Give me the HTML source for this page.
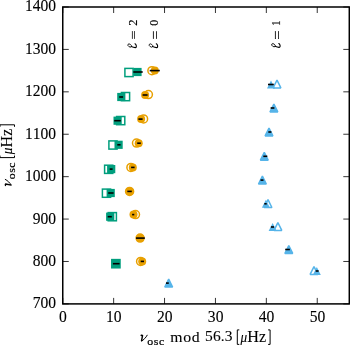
<!DOCTYPE html>
<html><head><meta charset="utf-8"><style>
html,body{margin:0;padding:0;background:#fff;width:350px;height:346px;overflow:hidden}
svg{display:block;will-change:transform}
text{font-family:"Liberation Serif",serif;fill:#000;font-kerning:none}
</style></head><body>
<svg width="350" height="346" viewBox="0 0 350 346">
<rect width="350" height="346" fill="#fff"/>
<g><circle cx="151.9" cy="70.7" r="4.0" fill="none" stroke="#E8A000" stroke-width="1.5"/><circle cx="148.4" cy="94.6" r="4.0" fill="none" stroke="#E8A000" stroke-width="1.5"/><circle cx="143.6" cy="118.9" r="4.0" fill="none" stroke="#E8A000" stroke-width="1.5"/><circle cx="136.5" cy="143.1" r="4.0" fill="none" stroke="#E8A000" stroke-width="1.5"/><circle cx="130.9" cy="167.4" r="4.0" fill="none" stroke="#E8A000" stroke-width="1.5"/><circle cx="129.6" cy="191.4" r="4.0" fill="none" stroke="#E8A000" stroke-width="1.5"/><circle cx="135.5" cy="214.6" r="4.0" fill="none" stroke="#E8A000" stroke-width="1.5"/><circle cx="140.1" cy="238.1" r="4.0" fill="none" stroke="#E8A000" stroke-width="1.5"/><circle cx="140.6" cy="261.4" r="4.0" fill="none" stroke="#E8A000" stroke-width="1.5"/><rect x="124.90" y="68.40" width="8.2" height="8.2" fill="none" stroke="#009E7D" stroke-width="1.5"/><rect x="121.40" y="92.50" width="8.2" height="8.2" fill="none" stroke="#009E7D" stroke-width="1.5"/><rect x="116.60" y="116.50" width="8.2" height="8.2" fill="none" stroke="#009E7D" stroke-width="1.5"/><rect x="108.90" y="140.90" width="8.2" height="8.2" fill="none" stroke="#009E7D" stroke-width="1.5"/><rect x="104.60" y="165.20" width="8.2" height="8.2" fill="none" stroke="#009E7D" stroke-width="1.5"/><rect x="102.40" y="189.10" width="8.2" height="8.2" fill="none" stroke="#009E7D" stroke-width="1.5"/><rect x="108.20" y="212.60" width="8.2" height="8.2" fill="none" stroke="#009E7D" stroke-width="1.5"/><rect x="111.80" y="259.60" width="8.2" height="8.2" fill="none" stroke="#009E7D" stroke-width="1.5"/><polygon points="277.00,80.10 273.10,87.90 280.90,87.90" fill="none" stroke="#56B4E9" stroke-width="1.5" stroke-linejoin="bevel"/><polygon points="273.90,104.10 270.00,111.90 277.80,111.90" fill="none" stroke="#56B4E9" stroke-width="1.5" stroke-linejoin="bevel"/><polygon points="269.00,128.10 265.10,135.90 272.90,135.90" fill="none" stroke="#56B4E9" stroke-width="1.5" stroke-linejoin="bevel"/><polygon points="264.30,152.40 260.40,160.20 268.20,160.20" fill="none" stroke="#56B4E9" stroke-width="1.5" stroke-linejoin="bevel"/><polygon points="262.40,176.20 258.50,184.00 266.30,184.00" fill="none" stroke="#56B4E9" stroke-width="1.5" stroke-linejoin="bevel"/><polygon points="268.00,199.70 264.10,207.50 271.90,207.50" fill="none" stroke="#56B4E9" stroke-width="1.5" stroke-linejoin="bevel"/><polygon points="277.90,222.60 274.00,230.40 281.80,230.40" fill="none" stroke="#56B4E9" stroke-width="1.5" stroke-linejoin="bevel"/><polygon points="288.80,245.60 284.90,253.40 292.70,253.40" fill="none" stroke="#56B4E9" stroke-width="1.5" stroke-linejoin="bevel"/><polygon points="314.00,266.60 310.10,274.40 317.90,274.40" fill="none" stroke="#56B4E9" stroke-width="1.5" stroke-linejoin="bevel"/><polygon points="168.70,279.20 164.80,287.00 172.60,287.00" fill="none" stroke="#56B4E9" stroke-width="1.5" stroke-linejoin="bevel"/></g>
<g><circle cx="154.8" cy="70.6" r="4.0" fill="#E8A000"/><circle cx="145.1" cy="95.0" r="4.0" fill="#E8A000"/><circle cx="141.1" cy="119.1" r="4.0" fill="#E8A000"/><circle cx="138.7" cy="143.2" r="4.0" fill="#E8A000"/><circle cx="132.8" cy="167.4" r="4.0" fill="#E8A000"/><circle cx="129.6" cy="191.4" r="4.0" fill="#E8A000"/><circle cx="133.5" cy="214.6" r="4.0" fill="#E8A000"/><circle cx="140.1" cy="238.1" r="4.0" fill="#E8A000"/><circle cx="142.2" cy="261.4" r="4.0" fill="#E8A000"/><rect x="133.40" y="67.90" width="8.2" height="8.2" fill="#009E7D"/><rect x="117.20" y="92.90" width="8.2" height="8.2" fill="#009E7D"/><rect x="113.50" y="116.60" width="8.2" height="8.2" fill="#009E7D"/><rect x="114.50" y="140.70" width="8.2" height="8.2" fill="#009E7D"/><rect x="107.10" y="165.00" width="8.2" height="8.2" fill="#009E7D"/><rect x="106.60" y="188.90" width="8.2" height="8.2" fill="#009E7D"/><rect x="106.10" y="212.60" width="8.2" height="8.2" fill="#009E7D"/><rect x="111.80" y="259.60" width="8.2" height="8.2" fill="#009E7D"/><polygon points="271.00,80.50 267.00,88.50 275.00,88.50" fill="#56B4E9"/><polygon points="273.70,104.00 269.70,112.00 277.70,112.00" fill="#56B4E9"/><polygon points="268.90,128.00 264.90,136.00 272.90,136.00" fill="#56B4E9"/><polygon points="264.20,152.30 260.20,160.30 268.20,160.30" fill="#56B4E9"/><polygon points="262.30,176.10 258.30,184.10 266.30,184.10" fill="#56B4E9"/><polygon points="265.90,199.80 261.90,207.80 269.90,207.80" fill="#56B4E9"/><polygon points="272.60,223.00 268.60,231.00 276.60,231.00" fill="#56B4E9"/><polygon points="288.70,245.50 284.70,253.50 292.70,253.50" fill="#56B4E9"/><polygon points="316.80,267.00 312.80,275.00 320.80,275.00" fill="#56B4E9"/><polygon points="168.50,279.10 164.50,287.10 172.50,287.10" fill="#56B4E9"/></g>
<g stroke="#000" stroke-width="1.6"><line x1="149.7" y1="70.6" x2="159.8" y2="70.6"/><line x1="142.6" y1="95.0" x2="147.6" y2="95.0"/><line x1="138.4" y1="119.1" x2="142.6" y2="119.1"/><line x1="137.2" y1="143.2" x2="140.8" y2="143.2"/><line x1="131.1" y1="167.4" x2="134.6" y2="167.4"/><line x1="127.3" y1="191.4" x2="131.8" y2="191.4"/><line x1="132.1" y1="214.6" x2="134.3" y2="214.6"/><line x1="136.0" y1="238.1" x2="144.8" y2="238.1"/><line x1="140.7" y1="261.4" x2="144.0" y2="261.4"/><line x1="133.3" y1="72.0" x2="142.7" y2="72.0"/><line x1="119.2" y1="97.0" x2="123.1" y2="97.0"/><line x1="114.2" y1="120.7" x2="120.8" y2="120.7"/><line x1="117.3" y1="144.8" x2="120.6" y2="144.8"/><line x1="109.7" y1="169.1" x2="112.6" y2="169.1"/><line x1="108.2" y1="193.0" x2="113.6" y2="193.0"/><line x1="107.7" y1="216.7" x2="111.8" y2="216.7"/><line x1="112.9" y1="263.7" x2="119.6" y2="263.7"/><line x1="268.0" y1="84.5" x2="273.8" y2="84.5"/><line x1="270.6" y1="108.0" x2="274.4" y2="108.0"/><line x1="268.3" y1="132.0" x2="271.4" y2="132.0"/><line x1="263.3" y1="156.3" x2="267.3" y2="156.3"/><line x1="260.5" y1="180.1" x2="263.5" y2="180.1"/><line x1="264.3" y1="203.8" x2="266.7" y2="203.8"/><line x1="270.9" y1="227.0" x2="274.1" y2="227.0"/><line x1="285.2" y1="249.5" x2="289.9" y2="249.5"/><line x1="315.7" y1="271.0" x2="318.6" y2="271.0"/><line x1="166.0" y1="283.1" x2="168.8" y2="283.1"/></g>
<g stroke="#000" stroke-width="0.8"><line x1="62.75" y1="303.90" x2="62.75" y2="297.90"/><line x1="62.75" y1="7.00" x2="62.75" y2="13.00"/><line x1="113.65" y1="303.90" x2="113.65" y2="297.90"/><line x1="113.65" y1="7.00" x2="113.65" y2="13.00"/><line x1="164.54" y1="303.90" x2="164.54" y2="297.90"/><line x1="164.54" y1="7.00" x2="164.54" y2="13.00"/><line x1="215.44" y1="303.90" x2="215.44" y2="297.90"/><line x1="215.44" y1="7.00" x2="215.44" y2="13.00"/><line x1="266.34" y1="303.90" x2="266.34" y2="297.90"/><line x1="266.34" y1="7.00" x2="266.34" y2="13.00"/><line x1="317.24" y1="303.90" x2="317.24" y2="297.90"/><line x1="317.24" y1="7.00" x2="317.24" y2="13.00"/><line x1="62.75" y1="303.90" x2="68.75" y2="303.90"/><line x1="349.30" y1="303.90" x2="343.30" y2="303.90"/><line x1="62.75" y1="261.48" x2="68.75" y2="261.48"/><line x1="349.30" y1="261.48" x2="343.30" y2="261.48"/><line x1="62.75" y1="219.07" x2="68.75" y2="219.07"/><line x1="349.30" y1="219.07" x2="343.30" y2="219.07"/><line x1="62.75" y1="176.66" x2="68.75" y2="176.66"/><line x1="349.30" y1="176.66" x2="343.30" y2="176.66"/><line x1="62.75" y1="134.24" x2="68.75" y2="134.24"/><line x1="349.30" y1="134.24" x2="343.30" y2="134.24"/><line x1="62.75" y1="91.83" x2="68.75" y2="91.83"/><line x1="349.30" y1="91.83" x2="343.30" y2="91.83"/><line x1="62.75" y1="49.41" x2="68.75" y2="49.41"/><line x1="349.30" y1="49.41" x2="343.30" y2="49.41"/><line x1="62.75" y1="7.00" x2="68.75" y2="7.00"/><line x1="349.30" y1="7.00" x2="343.30" y2="7.00"/></g>
<rect x="62.75" y="7.00" width="286.55" height="296.90" fill="none" stroke="#000" stroke-width="1.5"/>
<g font-size="16.2" stroke="#000" stroke-width="0.12"><text transform="translate(62.95,321.95) scale(0.94,1)" font-size="16.6" text-anchor="middle">0</text><text transform="translate(113.85,321.95) scale(0.94,1)" font-size="16.6" text-anchor="middle">10</text><text transform="translate(164.74,321.95) scale(0.94,1)" font-size="16.6" text-anchor="middle">20</text><text transform="translate(215.64,321.95) scale(0.94,1)" font-size="16.6" text-anchor="middle">30</text><text transform="translate(266.54,321.95) scale(0.94,1)" font-size="16.6" text-anchor="middle">40</text><text transform="translate(317.44,321.95) scale(0.94,1)" font-size="16.6" text-anchor="middle">50</text><text transform="translate(56.0,308.35) scale(0.96,1)" text-anchor="end">700</text><text transform="translate(56.0,265.93) scale(0.96,1)" text-anchor="end">800</text><text transform="translate(56.0,223.52) scale(0.96,1)" text-anchor="end">900</text><text transform="translate(56.0,181.11) scale(0.96,1)" text-anchor="end">1000</text><text transform="translate(56.0,138.69) scale(0.96,1)" text-anchor="end">1100</text><text transform="translate(56.0,96.28) scale(0.96,1)" text-anchor="end">1200</text><text transform="translate(56.0,53.86) scale(0.96,1)" text-anchor="end">1300</text><text transform="translate(56.0,11.45) scale(0.96,1)" text-anchor="end">1400</text></g>
<g transform="rotate(-90)" stroke="#000" stroke-width="0.15"><text transform="translate(-39.40,137.87) scale(1.2998,1)" font-size="12.40">=</text><text transform="translate(-25.85,136.60) scale(1.0453,1)" font-size="11.93">2</text><text transform="translate(-39.40,159.60) scale(1.1513,1)" font-size="14.00">=</text><text transform="translate(-25.75,158.08) scale(0.9708,1)" font-size="12.15">0</text><text transform="translate(-39.73,281.70) scale(1.1973,1)" font-size="14.00">=</text><text transform="translate(-25.90,280.40) scale(0.9260,1)" font-size="12.27">1</text></g><g transform="matrix(0,-1,-1,0,136.5,49.0)"><ellipse cx="3.5" cy="6.85" rx="1.3" ry="2.0" transform="rotate(-36 3.5 6.85)" fill="none" stroke="#000" stroke-width="0.8"/><path d="M2.5,5.3 C2.0,4.0 1.5,2.4 1.35,1.2 C1.3,0.2 2.4,0.0 3.6,0.3 C4.4,0.5 4.9,0.9 5.2,1.5" fill="none" stroke="#000" stroke-width="1.1" stroke-linecap="round"/></g><g transform="matrix(0,-1,-1,0,157.8,49.0)"><ellipse cx="3.5" cy="6.85" rx="1.3" ry="2.0" transform="rotate(-36 3.5 6.85)" fill="none" stroke="#000" stroke-width="0.8"/><path d="M2.5,5.3 C2.0,4.0 1.5,2.4 1.35,1.2 C1.3,0.2 2.4,0.0 3.6,0.3 C4.4,0.5 4.9,0.9 5.2,1.5" fill="none" stroke="#000" stroke-width="1.1" stroke-linecap="round"/></g><g transform="matrix(0,-1,-1,0,280.3,48.7)"><ellipse cx="3.5" cy="6.85" rx="1.3" ry="2.0" transform="rotate(-36 3.5 6.85)" fill="none" stroke="#000" stroke-width="0.8"/><path d="M2.5,5.3 C2.0,4.0 1.5,2.4 1.35,1.2 C1.3,0.2 2.4,0.0 3.6,0.3 C4.4,0.5 4.9,0.9 5.2,1.5" fill="none" stroke="#000" stroke-width="1.1" stroke-linecap="round"/></g>
<g stroke="#000" stroke-width="0.1"><text transform="translate(147.35,344.80) scale(1.1162,1)" font-size="10.60" letter-spacing="0.46" stroke-width="0.2">osc</text><text transform="translate(170.27,341.56) scale(1.0766,1)" font-size="14.64" letter-spacing="0.61">mod</text><text transform="translate(205.10,341.48) scale(1.0173,1)" font-size="15.23" letter-spacing="0.10">56.3</text><text transform="translate(240.61,341.52) scale(0.9156,1)" font-size="14.42" font-style="italic">μ</text><text transform="translate(247.34,341.70) scale(0.9967,1)" font-size="16.19">Hz</text><path d="M239.3,329.9 H237.3 V344.4 H239.3 M268.1,329.9 H270.1 V344.4 H268.1" fill="none" stroke="#000" stroke-width="1.0"/><path d="M140.9,335.9 C141.2,335.3 142.0,335.0 142.55,335.5 L141.5,341.2" fill="none" stroke="#000" stroke-width="1.4" stroke-linejoin="round"/><path d="M141.6,341.1 C143.6,339.9 146.0,337.6 147.2,335.2" fill="none" stroke="#000" stroke-width="1.0" stroke-linecap="round"/>
<g transform="rotate(-90)"><text transform="translate(-179.25,14.90) scale(1.1162,1)" font-size="10.60" letter-spacing="0.46" stroke-width="0.2">osc</text><text transform="translate(-154.29,11.62) scale(0.9156,1)" font-size="14.42" font-style="italic">μ</text><text transform="translate(-147.56,11.80) scale(0.9967,1)" font-size="16.19">Hz</text></g><g transform="matrix(0,-1,1,0,-329.9,326.6)"><path d="M140.9,335.9 C141.2,335.3 142.0,335.0 142.55,335.5 L141.5,341.2" fill="none" stroke="#000" stroke-width="1.4" stroke-linejoin="round"/><path d="M141.6,341.1 C143.6,339.9 146.0,337.6 147.2,335.2" fill="none" stroke="#000" stroke-width="1.0" stroke-linecap="round"/></g><g transform="matrix(0,-1,1,0,-329.9,394.9)"><path d="M239.3,329.9 H237.3 V344.4 H239.3 M268.1,329.9 H270.1 V344.4 H268.1" fill="none" stroke="#000" stroke-width="1.0"/></g></g>
</svg>
</body></html>
